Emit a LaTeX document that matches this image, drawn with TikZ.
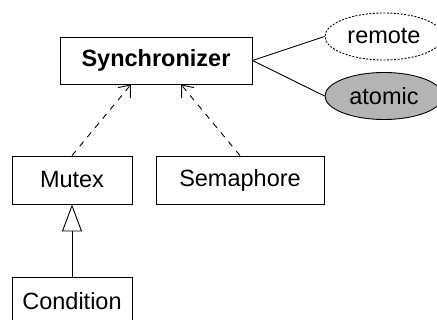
\documentclass[tikz,border=0pt]{standalone}
\usepackage{fontspec}
\setmainfont{Liberation Sans}
\usetikzlibrary{arrows.meta,shapes.geometric}
\definecolor{fillgray}{HTML}{B4B4B4}
\begin{document}
\begin{tikzpicture}[x=1pt,y=-1pt,
  cls/.style={draw,line width=0.9pt,inner sep=0pt,anchor=center,font=\fontsize{23.5}{26}\selectfont},
  prop/.style={ellipse,draw,line width=0.9pt,inner sep=0pt,minimum width=118pt,minimum height=47pt,font=\fontsize{23.5}{26}\selectfont},
  dep/.style={dashed,dash pattern=on 6pt off 6pt,line width=0.9pt,-{Straight Barb[length=10pt,width=16pt,line width=0.9pt]}},
  gen/.style={line width=0.9pt,-{Triangle[open,length=27pt,width=20pt,line width=0.9pt]}},
  lnk/.style={line width=0.9pt}]
\useasboundingbox (0,0) rectangle (437,320);
\clip (0,0) rectangle (437,320);
\node[cls,minimum width=192pt,minimum height=47pt,font=\fontsize{23.5}{26}\selectfont\bfseries] (sync) at (156,60.5) {Synchronizer};
\node[cls,minimum width=120pt,minimum height=48pt] (mutex) at (72,180) {Mutex};
\node[cls,minimum width=168pt,minimum height=48pt] (sema) at (240,180) {Semaphore};
\node[cls,minimum width=120pt,minimum height=48pt] (cond) at (72,301) {Condition};
\node[prop,dashed,dash pattern=on 2pt off 1.5pt] (remote) at (384,36.5) {remote};
\node[prop,fill=fillgray] (atomic) at (384,96) {atomic};
\draw[dep] (mutex.north) -- (sync.south -| 131,0);
\draw[dep] (sema.north) -- (sync.south -| 181,0);
\draw[gen] (cond.north) -- (mutex.south);
\draw[lnk] (sync.east) -- (remote.west);
\draw[lnk] (sync.east) -- (atomic.west);
\end{tikzpicture}
\end{document}
